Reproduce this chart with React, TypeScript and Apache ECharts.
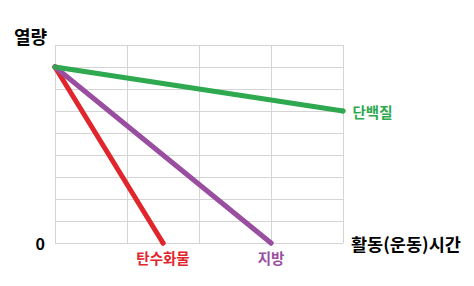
import React, { useEffect, useRef } from "react";
import * as echarts from "echarts";

const seriesNames = ["탄수화물", "지방", "단백질"];
const seriesColors = ["#e1252d", "#9a4ea0", "#2fa94f"];
const carbX = [0, 1.5];
const carbY = [8, 0];
const fatX = [0, 3];
const fatY = [8, 0];
const proteinX = [0, 4];
const proteinY = [8, 6];
const labelPositions = ["bottom", "bottom", "right"];
const yAxisName = "열량";
const xAxisName = "활동(운동)시간";

export default function App() {
  const ref = useRef<HTMLDivElement>(null);
  useEffect(() => {
    if (!ref.current) return;
    const chart = echarts.init(ref.current, undefined, { renderer: "svg" });
    const font = "'Noto Sans CJK KR', sans-serif";
    const xs = [carbX, fatX, proteinX];
    const ys = [carbY, fatY, proteinY];
    const series = seriesNames.map((name, i) => ({
      name,
      type: "line",
      clip: false,
      symbol: "circle",
      symbolSize: 5,
      showSymbol: true,
      itemStyle: { color: seriesColors[i] },
      lineStyle: { color: seriesColors[i], width: 5, cap: "round" },
      data: xs[i].map((x, j) => ({
        value: [x, ys[i][j]],
        label:
          j === xs[i].length - 1
            ? {
                show: true,
                formatter: name,
                position: labelPositions[i],
                distance: labelPositions[i] === "right" ? 7 : 5,
                color: seriesColors[i],
                fontSize: 14.5,
                fontWeight: "bold",
                fontFamily: font,
              }
            : { show: false },
      })),
    }));
    chart.setOption({
      animation: false,
      grid: { left: 47, right: 123, top: 37, bottom: 35 },
      xAxis: {
        type: "value",
        min: 0,
        max: 4,
        interval: 1,
        name: xAxisName,
        nameLocation: "end",
        nameGap: 8,
        nameTextStyle: { color: "#000", fontSize: 17.5, fontWeight: "bold", fontFamily: font, verticalAlign: "middle", padding: [3, 0, 0, 0] },
        axisLine: { show: false },
        axisTick: { show: false },
        axisLabel: { show: false },
        splitLine: { show: true, lineStyle: { color: "#d4d4d4", width: 1 } },
      },
      yAxis: {
        type: "value",
        min: 0,
        max: 9,
        interval: 1,
        name: yAxisName,
        nameLocation: "end",
        nameGap: 0,
        nameTextStyle: { color: "#000", fontSize: 18, fontWeight: "bold", fontFamily: font, align: "right", padding: [0, 8, 0, 0] },
        axisLine: { show: false },
        axisTick: { show: false },
        axisLabel: {
          show: true,
          margin: 10,
          color: "#000",
          fontSize: 16,
          fontWeight: "bold",
          fontFamily: font,
          formatter: (v: number) => (v === 0 ? "0" : ""),
        },
        splitLine: { show: true, lineStyle: { color: "#d4d4d4", width: 1 } },
      },
      series,
    });
    return () => chart.dispose();
  }, []);
  return <div ref={ref} style={{ width: 458, height: 270 }} />;
}
